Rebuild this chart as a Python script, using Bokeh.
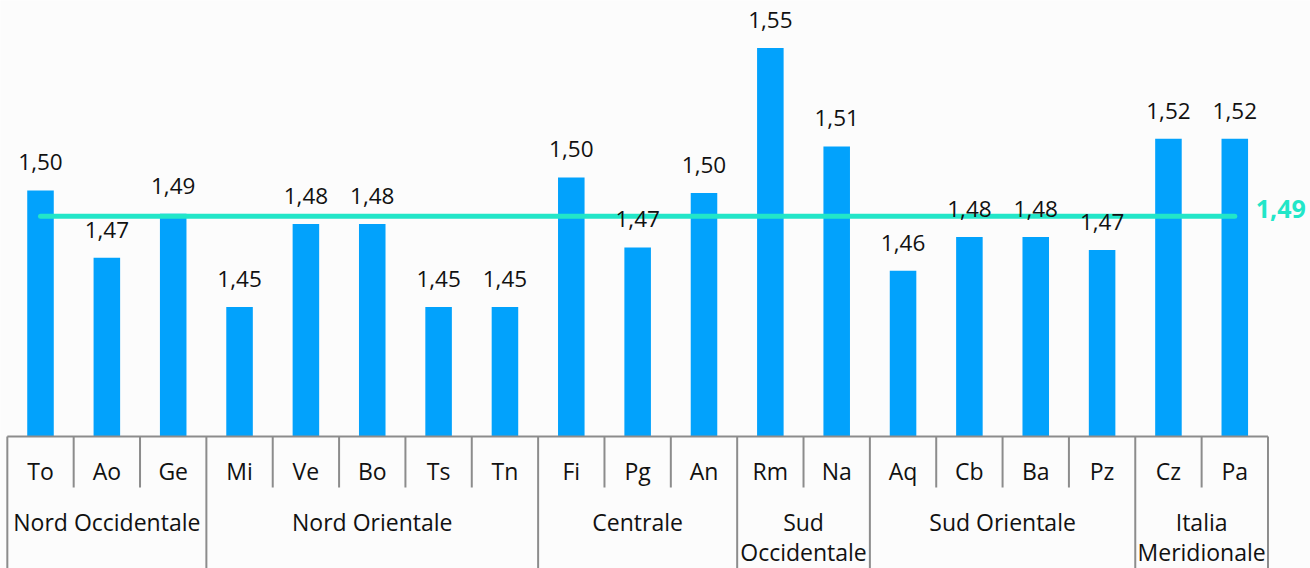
from bokeh.plotting import figure
from bokeh.models import Range1d, ColumnDataSource
from bokeh.core.properties import value
from bokeh.embed import file_html
from bokeh.resources import INLINE

# ---------------- data ----------------
cats = ["To", "Ao", "Ge", "Mi", "Ve", "Bo", "Ts", "Tn", "Fi", "Pg", "An",
        "Rm", "Na", "Aq", "Cb", "Ba", "Pz", "Cz", "Pa"]
values = [1.495, 1.469, 1.486, 1.450, 1.482, 1.482, 1.450, 1.450, 1.500, 1.473,
          1.494, 1.550, 1.512, 1.464, 1.477, 1.477, 1.472, 1.515, 1.515]
value_labels = ["1,50", "1,47", "1,49", "1,45", "1,48", "1,48", "1,45", "1,45",
                "1,50", "1,47", "1,50", "1,55", "1,51", "1,46", "1,48", "1,48",
                "1,47", "1,52", "1,52"]
groups = ["Nord Occidentale", "Nord Orientale", "Centrale", "Sud\nOccidentale",
          "Sud Orientale", "Italia\nMeridionale"]
group_sizes = [3, 5, 3, 2, 4, 2]
mean_value = 1.485
mean_label = "1,49"

# ---------------- style / layout ----------------
W, H = 1310, 568
BAR_COLOR = "#02a2fc"
MEAN_COLOR = "#22e6c8"
GRID_COLOR = "#8c8c8c"
TEXT_COLOR = "#111111"
FONT = "Open Sans"
Y_BASE = 1.40

n = len(cats)
xs = list(range(n))

p = figure(width=W, height=H, output_backend="svg", toolbar_location=None,
           x_range=Range1d(-0.6029, 19.141), y_range=Range1d(1.34903, 1.56834),
           x_axis_location=None, y_axis_location=None, min_border=0,
           background_fill_color="#fcfcfc", border_fill_color="#fcfcfc")
p.outline_line_color = None
p.grid.visible = False
# table area below the chart, in pixel rows from the top of the figure
p.extra_y_ranges = {"tbl": Range1d(H, 0)}

# bars
src = ColumnDataSource(dict(x=xs, top=values, lab=value_labels, cat=cats))
p.vbar(x="x", top="top", bottom=Y_BASE, width=0.40, source=src,
       fill_color=BAR_COLOR, line_color=None)

# mean line (drawn under the value labels)
p.line(x=[xs[0], xs[-1]], y=[mean_value, mean_value], line_color=MEAN_COLOR,
       line_width=5, line_cap="round")
p.text(x=[xs[-1]], y=[mean_value], text=[mean_label], x_offset=21, y_offset=-7,
       text_align="left", text_baseline="middle", text_font=value(FONT),
       text_font_size="25px", text_font_style="bold", text_color=MEAN_COLOR)

# value labels
p.text(x="x", y="top", text="lab", source=src, text_align="center",
       text_baseline="alphabetic", y_offset=-28, text_font=value(FONT),
       text_font_size="22.5px", text_color=TEXT_COLOR)

# ---------------- category table ----------------
ROW_TOP, CAT_BOTTOM, TBL_BOTTOM = 436, 487, H
CAT_Y, G1_Y, G2_Y = 470, 521, 551

# top line
p.segment(x0=[-0.5], y0=[Y_BASE], x1=[n - 0.5], y1=[Y_BASE],
          line_color=GRID_COLOR, line_width=2)

# vertical separators
bounds = [-0.5]
acc = 0
for s in group_sizes:
    acc += s
    bounds.append(acc - 0.5)
inner = [i + 0.5 for i in range(n - 1) if (i + 0.5) not in bounds]
p.segment(x0=inner, y0=[ROW_TOP] * len(inner), x1=inner, y1=[CAT_BOTTOM] * len(inner),
          line_color=GRID_COLOR, line_width=2, y_range_name="tbl")
p.segment(x0=bounds, y0=[ROW_TOP] * len(bounds), x1=bounds, y1=[TBL_BOTTOM] * len(bounds),
          line_color=GRID_COLOR, line_width=2, y_range_name="tbl")

# category labels
p.text(x="x", y=CAT_Y, text="cat", source=src, text_align="center",
       text_baseline="middle", text_font=value(FONT), text_font_size="23px",
       text_color=TEXT_COLOR, y_range_name="tbl")

# group labels (first line, and second line where the name wraps)
gx1, l1, gx2, l2 = [], [], [], []
start = 0
for g, s in zip(groups, group_sizes):
    cx = start + (s - 1) / 2
    parts = g.split("\n")
    gx1.append(cx)
    l1.append(parts[0])
    if len(parts) > 1:
        gx2.append(cx)
        l2.append(parts[1])
    start += s
p.text(x=gx1, y=[G1_Y] * len(gx1), text=l1, text_align="center",
       text_baseline="middle", text_font=value(FONT), text_font_size="23px",
       text_color=TEXT_COLOR, y_range_name="tbl")
p.text(x=gx2, y=[G2_Y] * len(gx2), text=l2, text_align="center",
       text_baseline="middle", text_font=value(FONT), text_font_size="23px",
       text_color=TEXT_COLOR, y_range_name="tbl")

open("out.html", "w").write(file_html(p, INLINE))
